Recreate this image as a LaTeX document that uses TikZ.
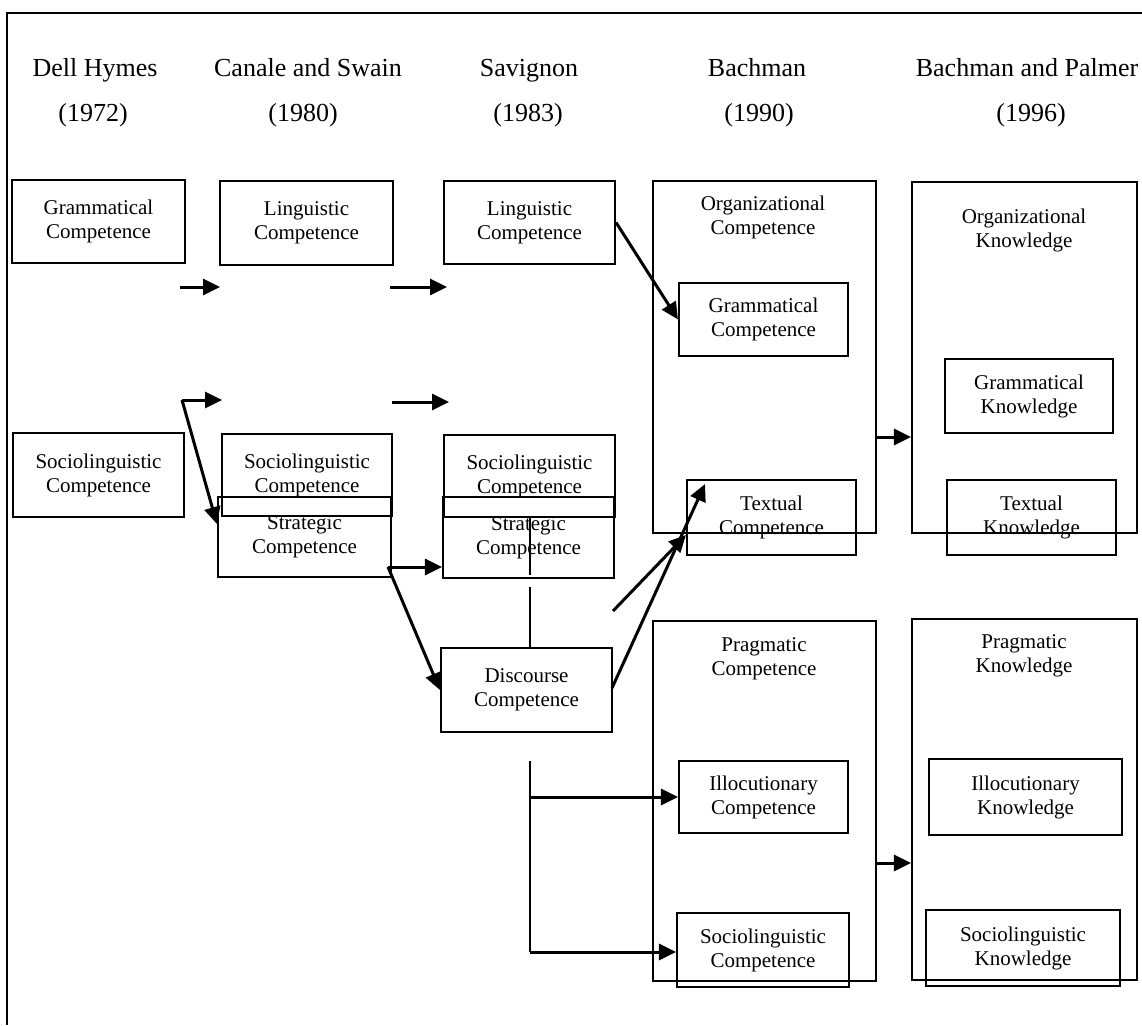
\documentclass[tikz,border=0pt]{standalone}
\usepackage{fontspec}
\setmainfont{Liberation Serif}
\usetikzlibrary{arrows.meta,calc}

\tikzset{
  box/.style={draw, line width=2.1pt, align=center, inner sep=0pt,
    font=\fontsize{21}{24}\selectfont},
  boxsize/.style 2 args={minimum width=#1, minimum height=#2},
  title/.style={align=center, inner sep=0pt, anchor=north,
    font=\fontsize{21}{24}\selectfont},
  head/.style={anchor=base, inner sep=0pt, font=\fontsize{26}{30}\selectfont},
  arr/.style={line width=3pt, -{Triangle[length=17pt,width=16pt]}},
  link/.style={line width=1.5pt}
}

\begin{document}
\begin{tikzpicture}[x=1pt,y=-1pt]
    \useasboundingbox (0,0) rectangle (1142,1025);
    % frame
    \draw[line width=1.8pt] (1142,13) -- (7,13) -- (7,1025);

    % authors and years
    \node[head] (hhead) at (95,76) {Dell Hymes};
    \node[head] (hyear) at (93,121) {(1972)};
    \node[head] (chead) at (308,76) {Canale and Swain};
    \node[head] (cyear) at (303,121) {(1980)};
    \node[head] (shead) at (529,76) {Savignon};
    \node[head] (syear) at (528,121) {(1983)};
    \node[head] (bhead) at (757,76) {Bachman};
    \node[head] (byear) at (759,121) {(1990)};
    \node[head] (phead) at (1027,76) {Bachman and Palmer};
    \node[head] (pyear) at (1031,121) {(1996)};

    % Hymes
    \node[box, boxsize={173}{83}] (hgram) at (98.5,221.5) {Grammatical\\Competence};
    \node[box, boxsize={171}{84}] (hsocio) at (98.5,475) {Sociolinguistic\\Competence};

    % Canale and Swain
    \node[box, boxsize={173}{84}] (cling) at (306.5,223) {Linguistic\\Competence};
    \node[box, boxsize={170}{82}] (csocio) at (307,475) {Sociolinguistic\\Competence};
    \node[box, boxsize={173}{80}] (cstrat) at (304.5,537) {Strategic\\Competence};

    % Savignon
    \node[box, boxsize={171}{83}] (sling) at (529.5,222.5) {Linguistic\\Competence};
    \node[box, boxsize={171}{82}] (ssocio) at (529.5,476) {Sociolinguistic\\Competence};
    \node[box, boxsize={171}{81}] (sstrat) at (528.5,537.5) {Strategic\\Competence};
    \node[box, boxsize={171}{84}] (sdisc) at (526.5,690) {Discourse\\Competence};

    % Bachman
    \node[box, boxsize={223}{352}] (borg) at (764.5,357) {};
    \node[title] (borgt) at (763,196) {Organizational\\Competence};
    \node[box, boxsize={169}{73}] (bgram) at (763.5,319.5) {Grammatical\\Competence};
    \node[box, boxsize={169}{75}] (btext) at (771.5,517.5) {Textual\\Competence};
    \node[box, boxsize={223}{360}] (bprag) at (764.5,801) {};
    \node[title] (bpragt) at (764,637) {Pragmatic\\Competence};
    \node[box, boxsize={169}{72}] (billoc) at (763.5,797) {Illocutionary\\Competence};
    \node[box, boxsize={172}{74}] (bsocio) at (763,950) {Sociolinguistic\\Competence};

    % Bachman and Palmer
    \node[box, boxsize={225}{351}] (porg) at (1024.5,357.5) {};
    \node[title] (porgt) at (1024,209) {Organizational\\Knowledge};
    \node[box, boxsize={168}{74}] (pgram) at (1029,396) {Grammatical\\Knowledge};
    \node[box, boxsize={169}{75}] (ptext) at (1031.5,517.5) {Textual\\Knowledge};
    \node[box, boxsize={225}{361}] (pprag) at (1024.5,799.5) {};
    \node[title] (ppragt) at (1024,634) {Pragmatic\\Knowledge};
    \node[box, boxsize={193}{76}] (pilloc) at (1025.5,797) {Illocutionary\\Knowledge};
    \node[box, boxsize={194}{76}] (psocio) at (1023,948) {Sociolinguistic\\Knowledge};

    % free ends
    \coordinate (r1a) at (180,287);
    \coordinate (r1b) at (220,287);
    \coordinate (r1c) at (390,287);
    \coordinate (r1d) at (447,287);
    \coordinate (elbow) at (182,400);
    \coordinate (r2a) at (222,400);
    \coordinate (r2b) at (392,402);
    \coordinate (r2c) at (449,402);
    \coordinate (cout) at (388,567);
    \coordinate (tstart) at (613,611);
    \coordinate (ttip) at (686,535);
    \coordinate (dtip) at (705,484);
    \coordinate (dout) at (612,688);
    \coordinate (sa) at (530,587);
    \coordinate (pa) at (530,761);
    \coordinate (pb) at (530,952);

    % arrows
    \draw[arr] (r1a) -- (r1b);
    \draw[arr] (r1c) -- (r1d);
    \draw[arr] (elbow) -- (r2a);
    \draw[arr] (elbow) -- (cstrat.west |- 0,524);
    \draw[arr] (r2b) -- (r2c);
    \draw[arr] (cout) -- (sstrat.west |- cout);
    \draw[arr] (cout) -- (sdisc.west);
    \draw[arr] (sling.east) -- (bgram.west);
    \draw[arr] (tstart) -- (ttip);
    \draw[arr] (dout) -- (dtip);
    \draw[arr] (borg.east |- 0,437) -- (porg.west |- 0,437);
    \draw[arr] (bprag.east |- 0,863) -- (pprag.west |- 0,863);

    % links from Savignon to Bachman
    \draw[link] (ssocio.south -| sa) -- (530,575);
    \draw[link] (sa) -- (sdisc.north -| sa);
    \draw[link] (pa) -- (pb);
    \draw[arr] (pa |- billoc.west) -- (billoc.west);
    \draw[arr] (pb) -- (bsocio.west |- pb);
\end{tikzpicture}
\end{document}
